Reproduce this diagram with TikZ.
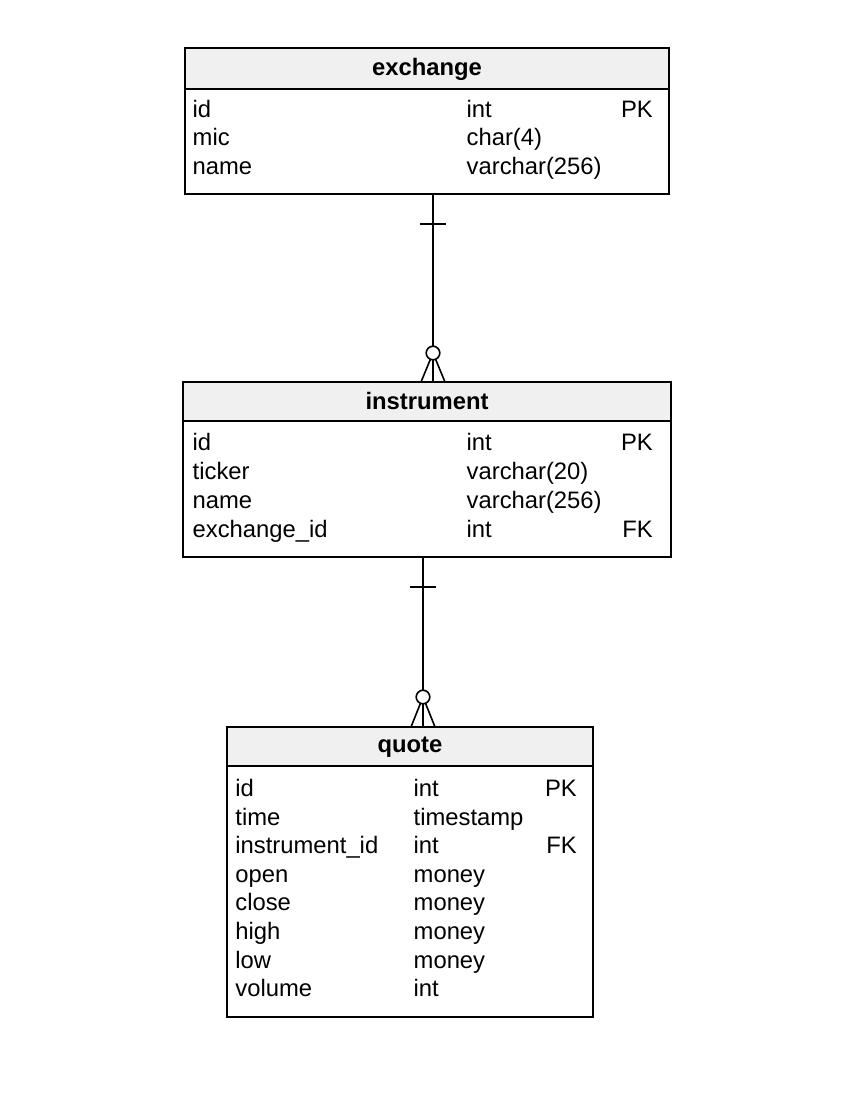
\documentclass[tikz,border=0pt]{standalone}
\usepackage{fontspec}
\setmainfont{Liberation Sans}
\usetikzlibrary{calc}
\definecolor{hdrgray}{HTML}{F0F0F0}
\begin{document}
\begin{tikzpicture}[x=1pt,y=-1pt,
  font=\fontsize{23.8}{27}\selectfont,
  tbl/.style={draw=black, line width=1.6pt, fill=white, inner sep=0pt, outer sep=0pt},
  hdr/.style={draw=black, line width=1.6pt, fill=hdrgray, inner sep=0pt, outer sep=0pt},
  ttl/.style={font=\fontsize{23.8}{27}\selectfont\bfseries, anchor=base, inner sep=0pt},
  fld/.style={anchor=base west, inner sep=0pt},
  key/.style={anchor=base east, inner sep=0pt},
  rel/.style={line width=1.6pt, line cap=butt},
  ]
\useasboundingbox (0,0) rectangle (864,1110);

% ---------- exchange ----------
\node[tbl, minimum width=484pt, minimum height=146pt] (exchange) at (427,121) {};
\node[hdr, minimum width=484pt, minimum height=41pt] (exchangeH) at (427,68.5) {};
\node[ttl] (exT) at (427,75.5) {exchange};
\node[fld] (ex1a) at (192.5,117.3) {id};
\node[fld] (ex1b) at (466.5,117.3) {int};
\node[key] (ex1c) at (653,117.3) {PK};
\node[fld] (ex2a) at (192.5,146) {mic};
\node[fld] (ex2b) at (466.5,146) {char(4)};
\node[fld] (ex3a) at (192.5,174.7) {name};
\node[fld] (ex3b) at (466.5,174.7) {varchar(256)};

% ---------- instrument ----------
\node[tbl, minimum width=488pt, minimum height=175pt] (instrument) at (427,469.5) {};
\node[hdr, minimum width=488pt, minimum height=39pt] (instrumentH) at (427,401.5) {};
\node[ttl] (inT) at (427,409.5) {instrument};
\node[fld] (in1a) at (192.5,450) {id};
\node[fld] (in1b) at (466.5,450) {int};
\node[key] (in1c) at (653,450) {PK};
\node[fld] (in2a) at (192.5,479) {ticker};
\node[fld] (in2b) at (466.5,479) {varchar(20)};
\node[fld] (in3a) at (192.5,508) {name};
\node[fld] (in3b) at (466.5,508) {varchar(256)};
\node[fld] (in4a) at (192.5,537) {exchange\_id};
\node[fld] (in4b) at (466.5,537) {int};
\node[key] (in4c) at (653,537) {FK};

% ---------- quote ----------
\node[tbl, minimum width=366pt, minimum height=290pt] (quote) at (410,872) {};
\node[hdr, minimum width=366pt, minimum height=39pt] (quoteH) at (410,746.5) {};
\node[ttl] (quT) at (410,752.5) {quote};
\node[fld] (qu1a) at (235.2,796.5) {id};
\node[fld] (qu1b) at (413.5,796.5) {int};
\node[key] (qu1c) at (577,796.5) {PK};
\node[fld] (qu2a) at (235.2,825.1) {time};
\node[fld] (qu2b) at (413.5,825.1) {timestamp};
\node[fld] (qu3a) at (235.2,853.7) {instrument\_id};
\node[fld] (qu3b) at (413.5,853.7) {int};
\node[key] (qu3c) at (577,853.7) {FK};
\node[fld] (qu4a) at (235.2,882.3) {open};
\node[fld] (qu4b) at (413.5,882.3) {money};
\node[fld] (qu5a) at (235.2,910.9) {close};
\node[fld] (qu5b) at (413.5,910.9) {money};
\node[fld] (qu6a) at (235.2,939.5) {high};
\node[fld] (qu6b) at (413.5,939.5) {money};
\node[fld] (qu7a) at (235.2,968.1) {low};
\node[fld] (qu7b) at (413.5,968.1) {money};
\node[fld] (qu8a) at (235.2,996.7) {volume};
\node[fld] (qu8b) at (413.5,996.7) {int};

% ---------- relation exchange -> instrument ----------
\coordinate (t1) at (433,224);
\coordinate (o1) at (433,353);
\draw[rel] (t1 |- exchange.south) -- (t1 |- instrument.north);
\draw[rel] ($(t1)+(-13,0)$) -- ($(t1)+(13,0)$);
\draw[rel] (o1) -- ($(o1 |- instrument.north)+(-12,0)$);
\draw[rel] (o1) -- ($(o1 |- instrument.north)+(12,0)$);
\draw[rel, fill=white] (o1) circle[radius=6.8];
\draw[rel] ($(o1)+(0,6.8)$) -- (o1 |- instrument.north);

% ---------- relation instrument -> quote ----------
\coordinate (t2) at (423,587);
\coordinate (o2) at (423,697);
\draw[rel] (t2 |- instrument.south) -- (t2 |- quote.north);
\draw[rel] ($(t2)+(-13,0)$) -- ($(t2)+(13,0)$);
\draw[rel] (o2) -- ($(o2 |- quote.north)+(-12,0)$);
\draw[rel] (o2) -- ($(o2 |- quote.north)+(12,0)$);
\draw[rel, fill=white] (o2) circle[radius=6.8];
\draw[rel] ($(o2)+(0,6.8)$) -- (o2 |- quote.north);
\end{tikzpicture}
\end{document}
